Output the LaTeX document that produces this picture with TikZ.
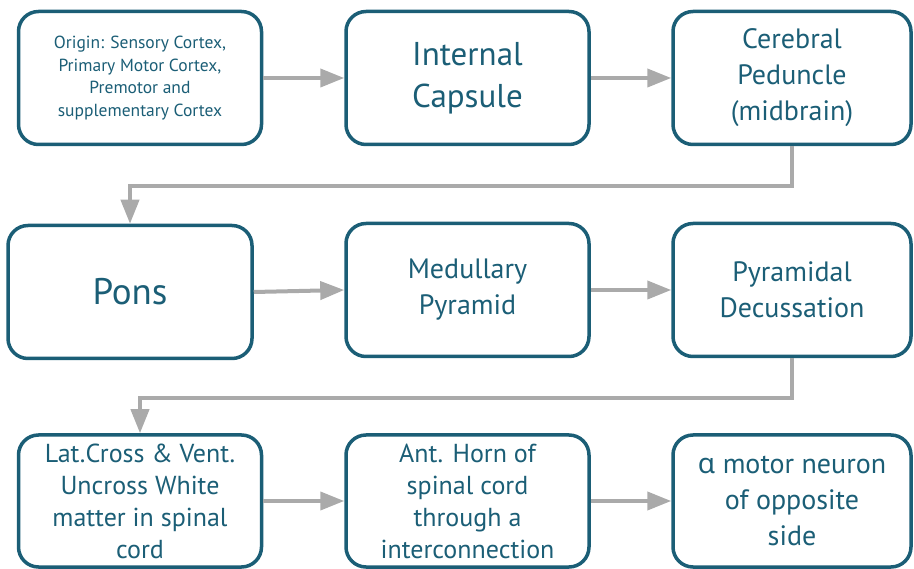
\documentclass[tikz,border=0pt]{standalone}
\usepackage{fontspec}
\setmainfont{PT Sans}
\newfontfamily\griech{Noto Sans}
\usetikzlibrary{arrows.meta}
\definecolor{randblau}{RGB}{27,94,118}
\definecolor{pfeilgrau}{RGB}{170,170,170}

\begin{document}
\begin{tikzpicture}[x=1pt, y=-1pt,
	kasten/.style={draw=randblau, line width=3.5pt, rounded corners=20pt, text=randblau,
		align=center, minimum width=243pt, minimum height=133pt, inner sep=0pt},
	pfeil/.style={pfeilgrau, line width=4pt, -{Triangle[length=24pt, width=18pt]}}]
	\useasboundingbox (0,0) rectangle (914,569);
	% erste reihe
	\node[kasten, font=\fontsize{17.5}{22.5}\selectfont] (ursprung) at (140,78)
		{Origin: Sensory Cortex,\\ Primary Motor Cortex,\\ Premotor and\\ supplementary Cortex};
	\node[kasten, font=\fontsize{33}{42}\selectfont] (kapsel) at (467.5,78) {Internal\\ Capsule};
	\node[kasten, minimum width=238pt, font=\fontsize{28}{36}\selectfont] (pedunkel) at (792,78)
		{Cerebral\\ Peduncle\\ (midbrain)};
	% zweite reihe
	\node[kasten, minimum width=244pt, font=\fontsize{37}{44}\selectfont] (pons) at (130,292) {Pons};
	\node[kasten, font=\fontsize{28}{36}\selectfont] (medulla) at (467.5,290) {Medullary\\ Pyramid};
	\node[kasten, minimum width=238pt, font=\fontsize{28}{36}\selectfont] (kreuzung) at (792,290)
		{Pyramidal\\ Decussation};
	% dritte reihe
	\node[kasten, minimum height=132pt, font=\fontsize{26}{32}\selectfont] (seitenstrang) at (140,501)
		{Lat.Cross \& Vent.\\ Uncross White\\ matter in spinal\\ cord};
	\node[kasten, minimum height=132pt, font=\fontsize{26}{32}\selectfont] (vorderhorn) at (467.5,501)
		{Ant. Horn of\\ spinal cord\\ through a\\ interconnection};
	\node[kasten, minimum width=238pt, minimum height=132pt, font=\fontsize{28}{36}\selectfont] (motoneuron) at (792,501)
		{{\griech α} motor neuron\\ of opposite\\ side};
	% pfeile
	\draw[pfeil] (ursprung.east) -- (kapsel.west);
	\draw[pfeil] (kapsel.east) -- (pedunkel.west);
	\draw[pfeil] (pedunkel.south) -- ++(0,40) -| (pons.north);
	\draw[pfeil] (pons.east) -- (medulla.west);
	\draw[pfeil] (medulla.east) -- (kreuzung.west);
	\draw[pfeil] (kreuzung.south) -- ++(0,40) -| (seitenstrang.north);
	\draw[pfeil] (seitenstrang.east) -- (vorderhorn.west);
	\draw[pfeil] (vorderhorn.east) -- (motoneuron.west);
\end{tikzpicture}
\end{document}
